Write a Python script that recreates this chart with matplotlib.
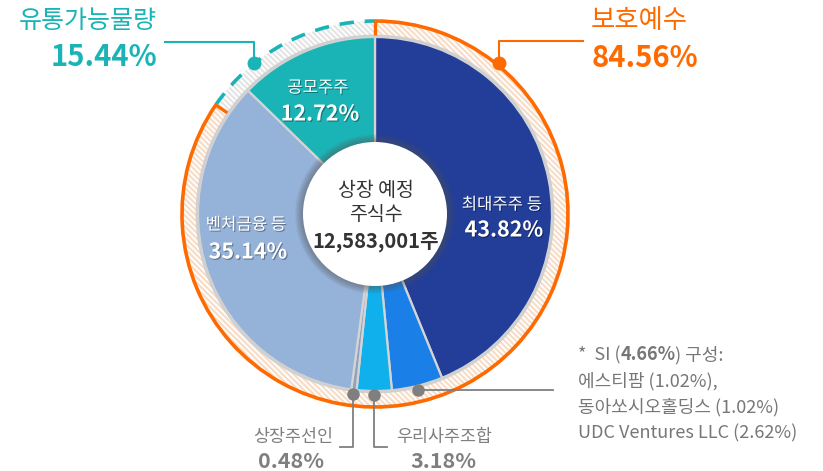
import numpy as np
import matplotlib
matplotlib.use('Agg')
import matplotlib.pyplot as plt
from matplotlib.patches import Circle, Arc
import matplotlib.patheffects as pe

plt.rcParams['font.family'] = ['Noto Sans CJK KR', 'DejaVu Sans']
plt.rcParams['hatch.linewidth'] = 1.3

# data
labels = ['최대주주 등', 'SI', '우리사주조합', '상장주선인', '벤처금융 등', '공모주주']
shares = [43.82, 4.66, 3.18, 0.48, 35.14, 12.72]
colors = ['#233e98', '#1a80e8', '#10b0ec', '#8ea3bf', '#95b2d8', '#1bb4b6']
ring_labels = ['보호예수', '유통가능물량']
ring_shares = [84.56, 15.44]
total_shares = '12,583,001주'
si_parts = [('에스티팜', 1.02), ('동아쏘시오홀딩스', 1.02), ('UDC Ventures LLC', 2.62)]

W, H = 823, 471
cx, cy = 375, 214
R_in, R_band = 177, 193

fig = plt.figure(figsize=(W / 100, H / 100), dpi=100)
ax = fig.add_axes([0, 0, 1, 1])

# hatched outer band
band, _ = ax.pie(ring_shares, radius=R_band, center=(cx, cy), startangle=-90,
                 counterclock=True, frame=True,
                 wedgeprops=dict(width=R_band - R_in, linewidth=0))
band[0].set_facecolor('#f7dcc6')
band[1].set_facecolor('#e4e4e4')
for w in band:
    w.set_hatch('\\\\\\\\\\\\')
    w.set_edgecolor('white')

# main donut
wedges, _ = ax.pie(shares, radius=R_in, center=(cx, cy), startangle=-90,
                   counterclock=True, colors=colors, frame=True,
                   wedgeprops=dict(edgecolor='#d4d4d4', linewidth=1.6))
ax.add_patch(Circle((cx, cy), R_in + 1, fill=False, edgecolor='#d0d0d0', lw=2))

# outer lines
split = -90 + 360 * ring_shares[0] / 100
ax.add_patch(Arc((cx, cy), 2 * R_band, 2 * R_band, theta1=-90, theta2=split,
                 color='#ff6a00', lw=2.6))
ax.add_patch(Arc((cx, cy), 2 * R_band, 2 * R_band, theta1=split, theta2=270,
                 color='#1bb4b6', lw=2.6, linestyle=(0, (4, 3))))
for a in [-90, split]:
    t = np.radians(a)
    ax.plot([cx + (R_in + 2) * np.cos(t), cx + (R_band + 1) * np.cos(t)],
            [cy + (R_in + 2) * np.sin(t), cy + (R_band + 1) * np.sin(t)],
            color='#ff6a00', lw=2.4, solid_capstyle='butt')

# center circle with soft shadow
for i in range(10, 0, -1):
    ax.add_patch(Circle((cx, cy), 72 + i * 0.8, color='#555555', alpha=0.06, lw=0))
ax.add_patch(Circle((cx, cy), 72, color='white', lw=0))

dark = '#333333'
ax.text(cx + 1, 190, '상장 예정', ha='center', va='center', fontsize=14, color=dark)
ax.text(cx + 1, 215, '주식수', ha='center', va='center', fontsize=14, color=dark)
ax.text(cx + 1, 242, total_shares, ha='center', va='center', fontsize=14.5,
        color=dark, fontweight='bold')

# inner white labels
shadow = [pe.withSimplePatchShadow(offset=(0.8, -0.8), shadow_rgbFace='black', alpha=0.35)]
inner = {0: (502, 205, 230), 4: (246, 225, 252), 5: (318, 88, 114)}
for i, (x, y1, y2) in inner.items():
    ax.text(x, y1, labels[i], ha='center', va='center', fontsize=12,
            color='white', path_effects=shadow)
    ax.text(x + 2, y2, f'{shares[i]:.2f}%', ha='center', va='center', fontsize=15.5,
            color='white', fontweight='bold', path_effects=shadow)

# bottom callouts
grey = '#7f7f7f'
cum = np.cumsum([0] + shares)
def mid_pt(i, r=181):
    a = np.radians(-90 + 360 * (cum[i] + shares[i] / 2) / 100)
    return cx + r * np.cos(a), cy + r * np.sin(a)

x1, y1 = mid_pt(1)
ax.plot([x1, 553], [y1, y1], color=grey, lw=1.3)
x2, y2 = mid_pt(2)
ax.plot([x2, x2, 387], [y2, 447, 447], color=grey, lw=1.3)
x3, y3 = mid_pt(3)
ax.plot([x3, x3, 340], [y3, 447, 447], color=grey, lw=1.3)
for x, y in [(x1, y1), (x2, y2), (x3, y3)]:
    ax.plot(x, y, 'o', color=grey, ms=9, mec='none')

ax.text(293, 437, labels[3], ha='center', va='center', fontsize=12.5, color=grey)
ax.text(291, 461, f'{shares[3]:.2f}%', ha='center', va='center', fontsize=15.5,
        color=grey, fontweight='bold')
ax.text(444, 437, labels[2], ha='center', va='center', fontsize=12.5, color=grey)
ax.text(443, 461, f'{shares[2]:.2f}%', ha='center', va='center', fontsize=15.5,
        color=grey, fontweight='bold')

# ring callouts
teal, orange = '#1bb4b6', '#ff6a00'
ax.plot([165, 254, 254], [42, 42, 63], color=teal, lw=1.5)
ax.plot(254, 63, 'o', color=teal, ms=10, mec='none')
ax.text(157, 21, ring_labels[1], ha='right', va='center', fontsize=18, color=teal)
ax.text(157, 57, f'{ring_shares[1]:.2f}%', ha='right', va='center', fontsize=21,
        color=teal, fontweight='bold')

ax.plot([583, 499, 499], [41, 41, 63], color=orange, lw=1.5)
ax.plot(499, 63, 'o', color=orange, ms=10, mec='none')
ax.text(591, 21, ring_labels[0], ha='left', va='center', fontsize=19, color=orange)
ax.text(592, 58, f'{ring_shares[0]:.2f}%', ha='left', va='center', fontsize=21,
        color=orange, fontweight='bold')

# SI note
note = '#777777'
fig.canvas.draw()
r = fig.canvas.get_renderer()
inv = ax.transData.inverted()
x = 578
for txt, wt in [('*  SI (', 'normal'), (f'{shares[1]:.2f}%', 'bold'), (') 구성:', 'normal')]:
    t = ax.text(x, 355, txt, ha='left', va='center', fontsize=13, color=note, fontweight=wt)
    bb = t.get_window_extent(r)
    x = inv.transform((bb.x1, bb.y0))[0]
ys = [381, 407, 433]
for k, (name, v) in enumerate(si_parts):
    end = ',' if k == 0 else ''
    ax.text(578, ys[k], f'{name} ({v:.2f}%){end}', ha='left', va='center',
            fontsize=13, color=note)

ax.set_xlim(0, W)
ax.set_ylim(H, 0)
ax.set_aspect('equal')
ax.axis('off')
fig.savefig('out.png', dpi=100)
